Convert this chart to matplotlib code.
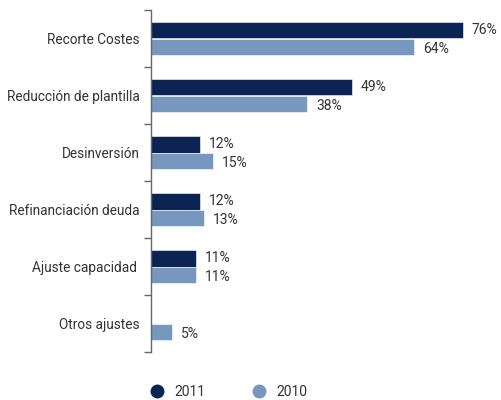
import matplotlib.pyplot as plt
import numpy as np
from matplotlib.lines import Line2D
from matplotlib.ticker import FixedLocator

plt.rcParams['font.family'] = ['Roboto', 'DejaVu Sans']

categories = ['Recorte Costes', 'Reducción de plantilla', 'Desinversión',
              'Refinanciación deuda', 'Ajuste capacidad ', 'Otros ajustes']
values_2011 = [76, 49, 12, 12, 11, None]
values_2010 = [64, 38, 15, 13, 11, 5]

dark = '#0b2454'
light = '#7797bf'
text_color = '#333333'

fig = plt.figure(figsize=(5.01, 4.0), dpi=100)
ax = fig.add_axes([151 / 501, 48 / 400, 350 / 501, 342 / 400])

y = np.arange(len(categories))
h = 0.285

for i, (v11, v10) in enumerate(zip(values_2011, values_2010)):
    if v11 is not None:
        ax.barh(y[i] - h / 2, v11, height=h, color=dark, edgecolor='white', linewidth=0.4)
        ax.text(v11 + 2.2, y[i] - h / 2, f'{v11}%', va='center', ha='left',
                fontsize=10, color=text_color)
    ax.barh(y[i] + h / 2, v10, height=h, color=light, edgecolor='white', linewidth=0.4)
    ax.text(v10 + 2.2, y[i] + h / 2 + 0.04, f'{v10}%', va='center', ha='left',
            fontsize=10, color=text_color)

ax.set_xlim(0, 85.3)
ax.set_ylim(len(categories) - 0.5, -0.5)

ax.set_yticks(y)
ax.set_yticklabels(categories, fontsize=9.8, color=text_color)
ax.tick_params(axis='y', which='major', length=0, pad=8)
ax.yaxis.set_minor_locator(FixedLocator(np.arange(-0.5, len(categories), 1.0)))
ax.tick_params(axis='y', which='minor', length=5, width=1, color='#666666')
ax.set_xticks([])

for side in ['top', 'right', 'bottom']:
    ax.spines[side].set_visible(False)
ax.spines['left'].set_color('#666666')
ax.spines['left'].set_linewidth(1)

handles = [Line2D([], [], marker='o', linestyle='', color=dark, markersize=9),
           Line2D([], [], marker='o', linestyle='', color=light, markersize=9)]
fig.legend(handles, ['2011', '2010'], loc='center left', bbox_to_anchor=(131 / 501, 8 / 400),
           ncol=2, frameon=False, fontsize=10, handletextpad=0.2, columnspacing=2.9,
           labelcolor=text_color)

fig.savefig('out.png', dpi=100)
